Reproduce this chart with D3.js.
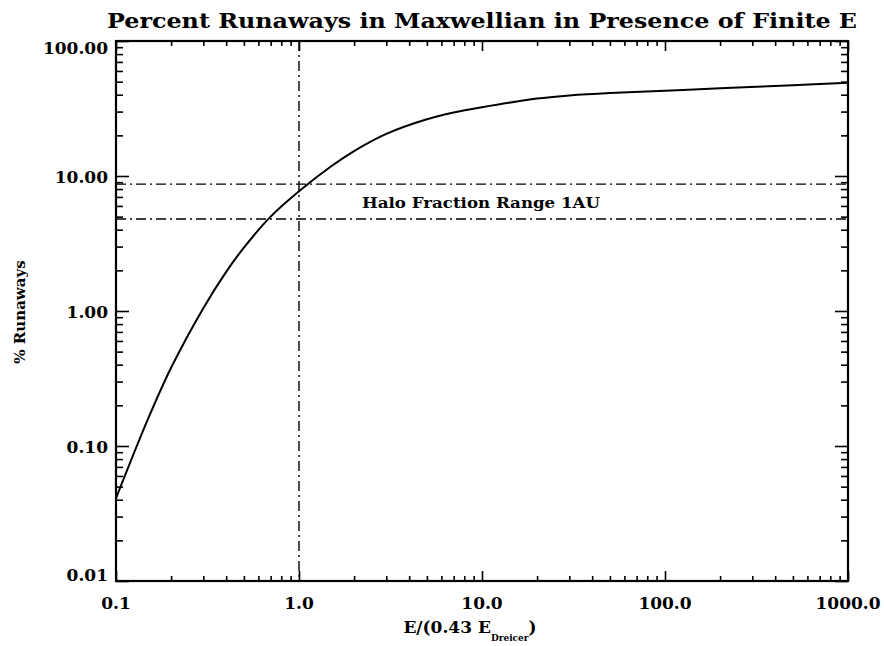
<!DOCTYPE html>
<html>
<head>
<meta charset="utf-8">
<script src="https://cdn.jsdelivr.net/npm/d3@7"></script>
<style>
  body { margin: 0; background: #fff; }
  text { font-family: "DejaVu Serif", serif; font-weight: bold; fill: #000; }
</style>
</head>
<body>
<div id="chart"></div>
<script>
// curve: E/(0.43 E_Dreicer) vs % runaways
const fieldRatio = [0.1, 0.15, 0.2, 0.3, 0.4, 0.5, 0.7, 1, 1.5, 2, 3, 5, 7, 10, 20, 30, 50, 100, 200, 500, 1000];
const runawayPct = [0.041, 0.16, 0.38, 1.05, 1.95, 2.95, 5.0, 7.7, 11.8, 15.3, 20.5, 26.3, 29.5, 32.3, 37.5, 39.5, 41.2, 42.8, 44.6, 47.0, 49.0];

// reference lines
const haloRange = [8.7, 4.8];
const unitField = 1.0;

const xTicks = [0.1, 1, 10, 100, 1000];
const yTicks = [0.01, 0.1, 1, 10, 100];

document.addEventListener("DOMContentLoaded", () => {
    let width = 884;
    let height = 646;
    let margin = { top: 41, right: 36, bottom: 65, left: 116 };
    let iw = width - margin.left - margin.right;
    let ih = height - margin.top - margin.bottom;

    let svg = d3.select("#chart")
        .append("svg")
        .attr("width", width)
        .attr("height", height);

    let g = svg.append("g")
        .attr("transform", `translate(${margin.left}, ${margin.top})`);

    let xScale = d3.scaleLog().domain([0.1, 1000]).range([0, iw]);
    let yScale = d3.scaleLog().domain([0.01, 100]).range([ih, 0]);

    // minor ticks 2..9 in every decade
    let minor = (lo, hi) => {
        let out = [];
        for (let p = lo; p < hi; p++) {
            for (let k = 2; k <= 9; k++) out.push(k * Math.pow(10, p));
        }
        return out;
    };
    let xMinor = minor(-1, 3);
    let yMinor = minor(-2, 2);

    let styleAxis = (sel) => {
        sel.select(".domain").remove();
        sel.selectAll(".tick line").attr("stroke", "#000").attr("stroke-width", 1.6);
    };

    // bottom / top
    g.append("g").attr("transform", `translate(0, ${ih})`)
        .call(d3.axisBottom(xScale).tickValues(xTicks).tickSize(-10).tickFormat(""))
        .call(styleAxis);
    g.append("g").attr("transform", `translate(0, ${ih})`)
        .call(d3.axisBottom(xScale).tickValues(xMinor).tickSize(-5).tickFormat(""))
        .call(styleAxis);
    g.append("g")
        .call(d3.axisTop(xScale).tickValues(xTicks).tickSize(-10).tickFormat(""))
        .call(styleAxis);
    g.append("g")
        .call(d3.axisTop(xScale).tickValues(xMinor).tickSize(-5).tickFormat(""))
        .call(styleAxis);

    // left / right
    g.append("g")
        .call(d3.axisLeft(yScale).tickValues(yTicks).tickSize(-13).tickFormat(""))
        .call(styleAxis);
    g.append("g")
        .call(d3.axisLeft(yScale).tickValues(yMinor).tickSize(-7).tickFormat(""))
        .call(styleAxis);
    g.append("g").attr("transform", `translate(${iw}, 0)`)
        .call(d3.axisRight(yScale).tickValues(yTicks).tickSize(-13).tickFormat(""))
        .call(styleAxis);
    g.append("g").attr("transform", `translate(${iw}, 0)`)
        .call(d3.axisRight(yScale).tickValues(yMinor).tickSize(-7).tickFormat(""))
        .call(styleAxis);

    // frame
    g.append("rect")
        .attr("width", iw)
        .attr("height", ih)
        .attr("fill", "none")
        .attr("stroke", "#000")
        .attr("stroke-width", 2.2);

    // tick labels
    g.selectAll(".xlab")
        .data(xTicks)
        .join("text")
        .attr("class", "xlab")
        .attr("x", d => xScale(d))
        .attr("y", ih + 28)
        .attr("text-anchor", "middle")
        .attr("font-size", "17px")
        .text(d => d3.format(".1f")(d));

    g.selectAll(".ylab")
        .data(yTicks)
        .join("text")
        .attr("class", "ylab")
        .attr("x", -8)
        .attr("y", d => yScale(d))
        .attr("dy", d => d === 100 ? "0.75em" : d === 0.01 ? "0" : "0.4em")
        .attr("text-anchor", "end")
        .attr("font-size", "17px")
        .text(d => d3.format(".2f")(d));

    // dash-dot reference lines
    g.selectAll(".halo")
        .data(haloRange)
        .join("line")
        .attr("class", "halo")
        .attr("x1", 0)
        .attr("x2", iw)
        .attr("y1", d => yScale(d))
        .attr("y2", d => yScale(d))
        .attr("stroke", "#000")
        .attr("stroke-width", 1.4)
        .attr("stroke-dasharray", "10,4,2,4");

    g.append("line")
        .attr("x1", xScale(unitField))
        .attr("x2", xScale(unitField))
        .attr("y1", 0)
        .attr("y2", ih)
        .attr("stroke", "#000")
        .attr("stroke-width", 1.4)
        .attr("stroke-dasharray", "10,4,2,4");

    // curve
    let pts = fieldRatio.map((x, i) => [x, runawayPct[i]]);
    let line = d3.line()
        .x(d => xScale(d[0]))
        .y(d => yScale(d[1]))
        .curve(d3.curveCatmullRom.alpha(0.5));
    g.append("path")
        .datum(pts)
        .attr("fill", "none")
        .attr("stroke", "#000")
        .attr("stroke-width", 2)
        .attr("d", line);

    g.append("text")
        .attr("x", 362 - margin.left)
        .attr("y", 208 - margin.top)
        .attr("font-size", "14px")
        .attr("textLength", 238)
        .attr("lengthAdjust", "spacingAndGlyphs")
        .text("Halo Fraction Range 1AU");

    // title
    svg.append("text")
        .attr("x", 107)
        .attr("y", 28)
        .attr("font-size", "21px")
        .attr("textLength", 750)
        .attr("lengthAdjust", "spacingAndGlyphs")
        .text("Percent Runaways in Maxwellian in Presence of Finite E");

    // x label with subscript
    let xl = svg.append("text")
        .attr("x", margin.left + iw / 2 - 12)
        .attr("y", 633)
        .attr("text-anchor", "middle")
        .attr("font-size", "17px");
    xl.append("tspan").text("E/(0.43 E");
    xl.append("tspan").attr("font-size", "9px").attr("dy", 8).text("Dreicer");
    xl.append("tspan").attr("dy", -8).text(")");

    // y label
    svg.append("text")
        .attr("transform", "translate(25, 312) rotate(-90)")
        .attr("text-anchor", "middle")
        .attr("font-size", "15px")
        .text("% Runaways");
});
</script>
</body>
</html>
